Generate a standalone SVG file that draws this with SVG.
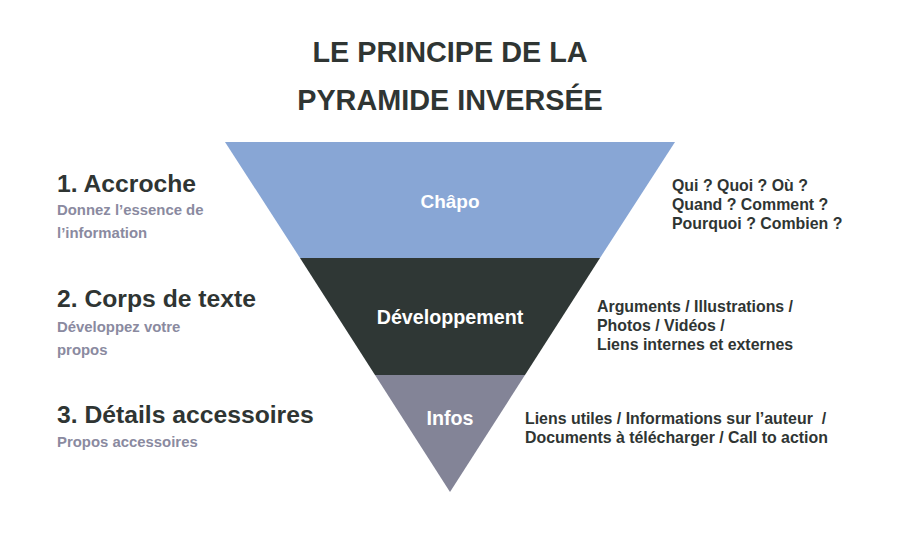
<svg xmlns="http://www.w3.org/2000/svg" width="900" height="536" viewBox="0 0 900 536">
<style>
text{font-family:"Liberation Sans",Arial,sans-serif;font-weight:bold}
.title{font-size:28.8px;fill:#2f3533;text-anchor:middle}
.head{font-size:24.7px;fill:#2f3533}
.sub{font-size:14.9px;fill:#8a8aa0}
.side{font-size:15.9px;fill:#2f3533}
.lab{fill:#ffffff;text-anchor:middle}
</style>
<rect width="900" height="536" fill="#ffffff"/>
<g id="title">
<text class="title" x="450" y="62">LE PRINCIPE DE LA</text>
<text class="title" x="450" y="110">PYRAMIDE INVERSÉE</text>
</g>
<g id="chapo">
<polygon points="225,142 675,142 600,258 300,258" fill="#88a6d5"/>
<text class="lab" x="450" y="208" style="font-size:19px">Châpo</text>
</g>
<g id="developpement">
<polygon points="300,258 600,258 525,375 375,375" fill="#2f3735"/>
<text class="lab" x="450" y="324" style="font-size:19.7px">Développement</text>
</g>
<g id="infos">
<polygon points="375,375 525,375 450,492" fill="#838497"/>
<text class="lab" x="450" y="425" style="font-size:19.7px">Infos</text>
</g>
<g id="left1">
<text class="head" x="57" y="192">1. Accroche</text>
<text class="sub" x="57" y="215">Donnez l’essence de</text>
<text class="sub" x="57" y="238">l’information</text>
</g>
<g id="left2">
<text class="head" x="57" y="307">2. Corps de texte</text>
<text class="sub" x="57" y="332">Développez votre</text>
<text class="sub" x="57" y="355">propos</text>
</g>
<g id="left3">
<text class="head" x="57" y="423">3. Détails accessoires</text>
<text class="sub" x="57" y="447">Propos accessoires</text>
</g>
<g id="right1">
<text class="side" x="672" y="191">Qui ? Quoi ? Où ?</text>
<text class="side" x="672" y="210">Quand ? Comment ?</text>
<text class="side" x="672" y="229">Pourquoi ? Combien ?</text>
</g>
<g id="right2">
<text class="side" x="597" y="312">Arguments / Illustrations /</text>
<text class="side" x="597" y="331">Photos / Vidéos /</text>
<text class="side" x="597" y="350">Liens internes et externes</text>
</g>
<g id="right3">
<text class="side" x="525" y="424" xml:space="preserve">Liens utiles / Informations sur l’auteur  /</text>
<text class="side" x="525" y="443">Documents à télécharger / Call to action</text>
</g>
<g id="connectors"></g>
</svg>
